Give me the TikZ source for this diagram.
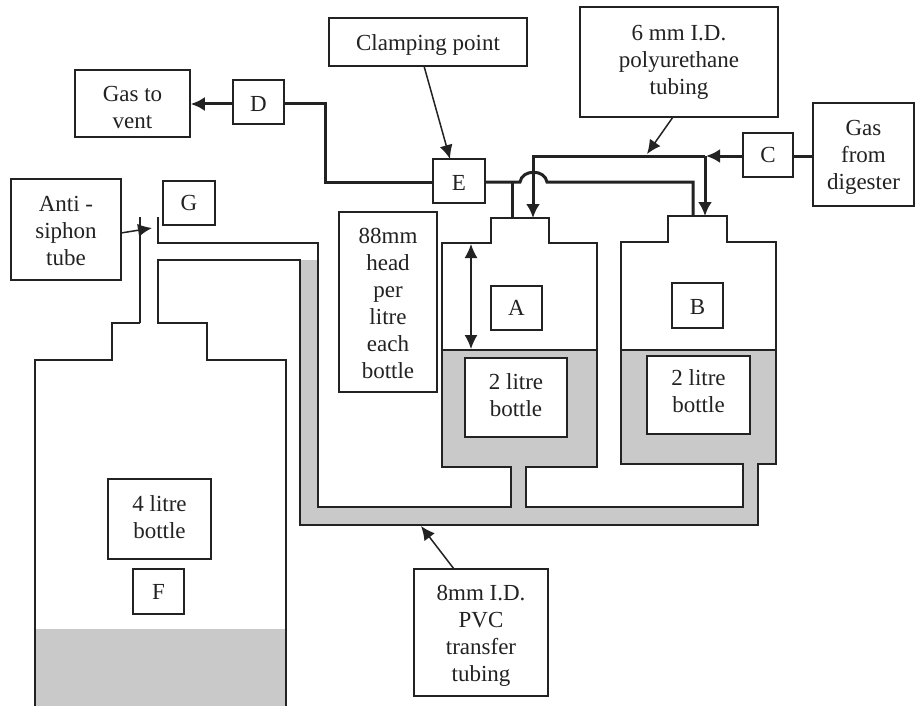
\documentclass[tikz,border=0pt]{standalone}
\usepackage{fontspec}
\setmainfont{Liberation Serif}
\usetikzlibrary{arrows.meta}
\definecolor{ink}{HTML}{222222}
\definecolor{liquid}{HTML}{C9C9C9}
\newcommand{\tx}[2]{\raisebox{\dimexpr-6pt-#1pt\relax}[0pt][0pt]{\begin{tabular}{@{}c@{}}#2\end{tabular}}}
\tikzset{
  box/.style={draw=ink,line width=1.5pt,fill=white,inner sep=0pt,text=ink,
    font=\fontsize{23}{27}\selectfont},
  pipe/.style={draw=ink,line width=3pt},
  wall/.style={draw=ink,line width=1.5pt,line join=miter},
  callout/.style={draw=ink,line width=1.5pt,-{Latex[length=14pt,width=13pt]}},
  pipearrow/.style={pipe,-{Latex[length=14pt,width=14pt]}},
  dbl/.style={draw=ink,line width=1.5pt,{Latex[length=14pt,width=13pt]}-{Latex[length=14pt,width=13pt]}}
}
\begin{document}
\begin{tikzpicture}[x=1pt,y=-1pt]
\useasboundingbox (0,0) rectangle (915,706);
\fill[white] (0,0) rectangle (915,706);
% liquid
\fill[liquid] (300,260) -- (318,260) -- (318,507) -- (511,507) -- (511,467) -- (442,467) -- (442,350) -- (597,350) -- (597,467) -- (526,467) -- (526,507) -- (743,507) -- (743,464) -- (621,464) -- (621,350) -- (776,350) -- (776,464) -- (758,464) -- (758,525) -- (300,525) -- cycle;
\fill[liquid] (36,629) rectangle (286,706);
% bottles and transfer tubing
\draw[wall] (140,323) -- (112,323) -- (112,360) -- (35,360) -- (35,706);
\draw[wall] (286,706) -- (286,360) -- (207,360) -- (207,323) -- (158,323) -- (158,260) -- (300,260) -- (300,525) -- (758,525) -- (758,464) -- (776,464) -- (776,242) -- (727,242) -- (727,216) -- (668,216) -- (668,242) -- (621,242) -- (621,464) -- (743,464) -- (743,507) -- (526,507) -- (526,467) -- (597,467) -- (597,243) -- (549,243) -- (549,218) -- (491,218) -- (491,243) -- (442,243) -- (442,467) -- (511,467) -- (511,507) -- (318,507) -- (318,243) -- (158,243) -- (158,217);
\draw[wall] (442,350) -- (597,350);
\draw[wall] (621,350) -- (776,350);
\draw[wall] (140,217) -- (140,323);
% nodes
\node[box,minimum width=115pt,minimum height=67pt] (vent) at (132.5,103.5) {\tx{6}{Gas to\\vent}};
\node[box,minimum width=51pt,minimum height=44pt] (D) at (258.5,102) {\tx{4}{D}};
\node[box,minimum width=198pt,minimum height=48pt] (clamp) at (428,42) {\tx{3}{Clamping point}};
\node[box,minimum width=52pt,minimum height=44pt] (E) at (459,181) {\tx{4}{E}};
\node[box,minimum width=198pt,minimum height=110pt] (pu) at (679,62) {\tx{0}{6 mm I.D.\\polyurethane\\tubing}};
\node[box,minimum width=50pt,minimum height=44pt] (C) at (768,155) {\tx{2}{C}};
\node[box,minimum width=101pt,minimum height=103pt] (digester) at (863.5,154.5) {\tx{2.5}{Gas\\from\\digester}};
\node[box,minimum width=110pt,minimum height=101pt] (anti) at (66,229.5) {\tx{3.5}{Anti -\\siphon\\tube}};
\node[box,minimum width=52pt,minimum height=44pt] (G) at (189,203) {\tx{2}{G}};
\node[box,minimum width=98pt,minimum height=180pt] (head) at (388,302) {\tx{4}{88mm\\head\\per\\litre\\each\\bottle}};
\node[box,minimum width=51pt,minimum height=44pt] (A) at (516.5,308) {\tx{2}{A}};
\node[box,minimum width=51pt,minimum height=45pt] (B) at (697.5,305.5) {\tx{4}{B}};
\node[box,minimum width=102pt,minimum height=79pt] (twoA) at (516,397.5) {\tx{0}{2 litre\\bottle}};
\node[box,minimum width=103pt,minimum height=78pt] (twoB) at (698.5,395) {\tx{-1}{2 litre\\bottle}};
\node[box,minimum width=103pt,minimum height=80pt] (four) at (159.5,519) {\tx{0.5}{4 litre\\bottle}};
\node[box,minimum width=51pt,minimum height=45pt] (F) at (158.5,591.5) {\tx{3}{F}};
\node[box,minimum width=134pt,minimum height=127pt] (pvc) at (481,632.5) {\tx{3.5}{8mm I.D.\\PVC\\transfer\\tubing}};
% connector ends
\coordinate (dOut) at (D.west |- 0,104);
\coordinate (ventIn) at (vent.east |- 0,104);
\coordinate (dRight) at (D.east |- 0,104);
\coordinate (bendTop) at (325,104);
\coordinate (bendBot) at (325,182);
\coordinate (eLeft) at (E.west |- 0,182);
\coordinate (eRight) at (E.east |- 0,182);
\coordinate (clampOut) at (424,66);
\coordinate (eIn) at (450,159);
\coordinate (puOut) at (673,117);
\coordinate (puTip) at (647,154);
\coordinate (pvcOut) at (454,569);
\coordinate (pvcTip) at (421,526);
\coordinate (antiOut) at (121,233);
\coordinate (antiTip) at (152,228);
\coordinate (headTop) at (471,244);
\coordinate (headBot) at (471,349);
\coordinate (teeA) at (512,182);
\coordinate (humpL) at (520,182);
\coordinate (humpR) at (547,182);
\coordinate (neckA) at (512,218);
\coordinate (tipA) at (533,218);
\coordinate (topA) at (533,156);
\coordinate (teeB) at (705,156);
\coordinate (tipB) at (705,216);
\coordinate (cornerB) at (693,182);
\coordinate (neckB) at (693,216);
\coordinate (cLeft) at (C.west |- 0,156);
\coordinate (cRight) at (C.east |- 0,156);
\coordinate (digIn) at (digester.west |- 0,156);
\coordinate (cTip) at (706,156);
% gas pipework
\draw[pipearrow] (dOut) -- (ventIn);
\draw[pipe,line join=miter] (dRight) -- (bendTop) -- (bendBot) -- (eLeft);
\draw[pipe,line join=miter] (eRight) -- (teeA) -- (humpL) .. controls (522,169) and (545,169) .. (humpR) -- (cornerB) -- (neckB);
\draw[pipe] (teeA) -- (neckA);
\draw[pipearrow] (cLeft) -- (cTip);
\draw[pipe,line join=miter] (teeB) -- (topA) -- (tipA |- 0,170);
\draw[pipearrow] (topA) -- (tipA);
\draw[pipearrow] (teeB) -- (tipB);
\draw[pipe] (digIn) -- (cRight);
% callouts
\draw[callout] (clampOut) -- (eIn);
\draw[callout] (puOut) -- (puTip);
\draw[callout] (pvcOut) -- (pvcTip);
\draw[callout] (antiOut) -- (antiTip);
\draw[dbl] (headTop) -- (headBot);
\end{tikzpicture}
\end{document}
